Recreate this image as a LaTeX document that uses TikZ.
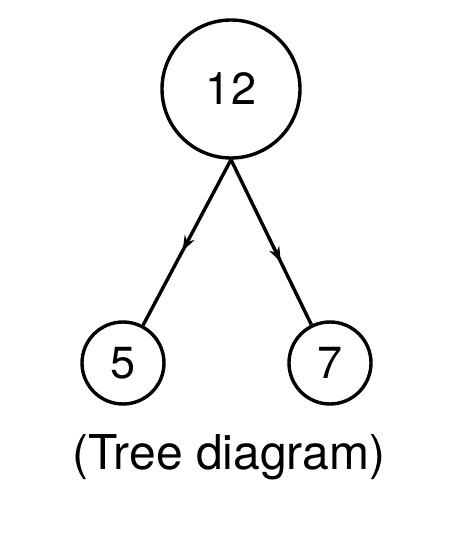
\documentclass[tikz,border=0pt]{standalone}
\usepackage{fontspec}
\setmainfont{TeX Gyre Heros}
\usetikzlibrary{arrows.meta,decorations.markings}

\begin{document}
\begin{tikzpicture}[x=1pt,y=1pt]
        \tikzstyle{every node}+=[inner sep=0pt]
        \tikzstyle{vertex}=[draw=black,circle,line width=3.4pt,font=\fontsize{45}{50}\selectfont]
        \tikzstyle{edge}=[draw=black,line width=3.4pt,postaction={decorate}]
        \useasboundingbox (0,0) rectangle (474,560);
        \node [vertex,minimum size=138pt] (n12) at (231,471) {12};
        \node [vertex,minimum size=82pt] (n5) at (123,197) {5};
        \node [vertex,minimum size=82pt] (n7) at (330,197) {7};
        \draw [edge,decoration={markings,mark=at position 0.55 with {\arrow{Stealth[length=15pt,width=11pt]}}}] (n12.south) -- (n5);
        \draw [edge,decoration={markings,mark=at position 0.62 with {\arrow{Stealth[length=15pt,width=11pt]}}}] (n12.south) -- (n7);
        \node [anchor=base,font=\fontsize{48}{56}\selectfont] (caption) at (229,90) {(Tree diagram)};
\end{tikzpicture}
\end{document}
